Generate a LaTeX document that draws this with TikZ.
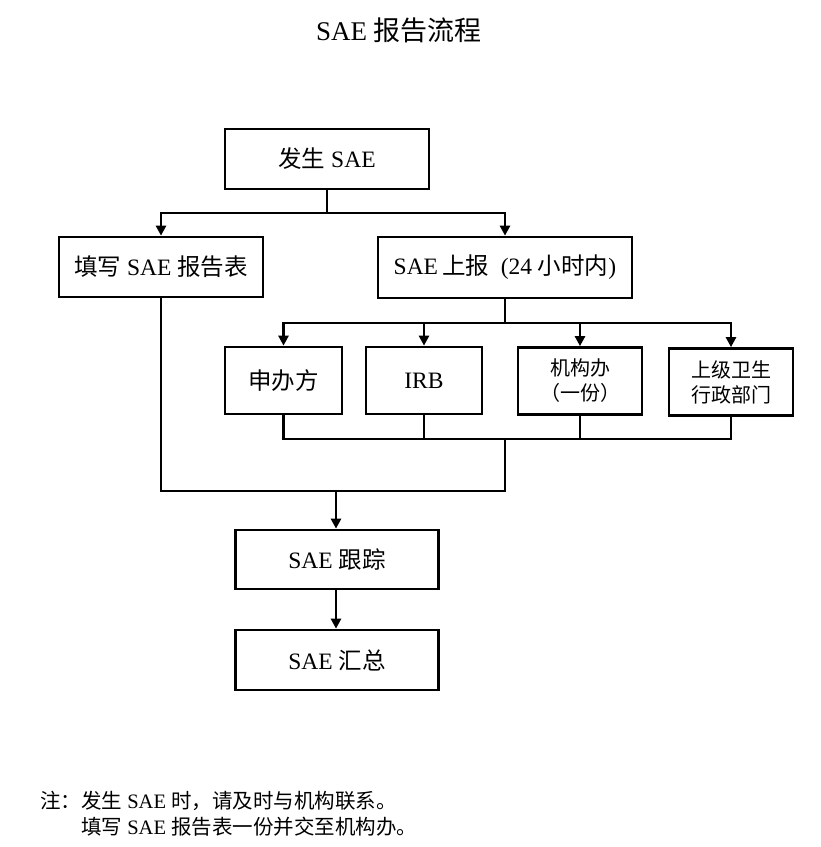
\documentclass[tikz,border=0pt]{standalone}
\usepackage{fontspec}
\setmainfont{Liberation Serif}
\newfontfamily\cjk{Noto Sans CJK SC}
\usetikzlibrary{arrows.meta}
\tikzset{
  box/.style={draw, line width=2.7pt, minimum width=#1, inner sep=0pt, align=center,
              font=\fontsize{23.5}{27}\selectfont},
  box/.default=204pt,
  smallbox/.style={box=#1, font=\fontsize{20}{25}\selectfont},
  conn/.style={line width=2.7pt, line join=miter},
  arr/.style={conn, -{Triangle[length=10pt,width=10pt]}},
}
\begin{document}
\begin{tikzpicture}[x=1pt,y=-1pt]
\useasboundingbox (0,0) rectangle (821,847);
\node[font=\fontsize{27}{30}\selectfont] (title) at (399,30) {SAE {\cjk 报告流程}};

\node[box=204pt, minimum height=60pt] (top) at (327,159) {{\cjk 发生} SAE};
\node[box=204pt, minimum height=60pt] (fill) at (161,267) {{\cjk 填写} SAE {\cjk 报告表}};
\node[box=254pt, minimum height=61pt] (report) at (505,267.5) {SAE\,{\cjk 上报}\ \ (24 {\cjk 小时内})};

\node[box=117pt, minimum height=67pt] (sp) at (283.5,380.5) {{\cjk 申办方}};
\node[box=116pt, minimum height=67pt] (irb) at (424,380.5) {IRB};
\node[smallbox=124pt, minimum height=67pt] (inst) at (580,381) {{\cjk 机构办}\\{\cjk （一份）}};
\node[smallbox=124pt, minimum height=67pt] (gov) at (731,382) {{\cjk 上级卫生}\\{\cjk 行政部门}};

\node[box=203pt, minimum height=59pt] (track) at (337,559.5) {SAE {\cjk 跟踪}};
\node[box=203pt, minimum height=60pt] (sum) at (337,660) {SAE {\cjk 汇总}};

\coordinate (j1) at (327,213);
\coordinate (j2) at (505,323);
\coordinate (j3) at (505,439);
\coordinate (j4) at (505,491);
\coordinate (j5) at (336,491);

\draw[arr] (top.south) -- (j1) -| (fill.north);
\draw[arr] (j1) -| (report.north);

\draw[arr] (report.south) -- (j2) -| (sp.north);
\draw[arr] (j2) -| (irb.north);
\draw[arr] (j2) -| (inst.north);
\draw[arr] (j2) -| (gov.north);

\draw[conn] (sp.south) |- (gov.south |- j3) -- (gov.south);
\draw[conn] (irb.south) -- (irb.south |- j3);
\draw[conn] (inst.south) -- (inst.south |- j3);
\draw[conn] (fill.south) |- (j4) -- (j3);
\draw[arr] (j5) -- (track.north -| j5);
\draw[arr] (track.south -| j5) -- (sum.north -| j5);

\node[anchor=west, align=left, inner sep=0pt, font=\fontsize{20.5}{26}\selectfont] (note) at (40,813.5)
  {{\cjk 注：发生} SAE {\cjk 时，请及时与机构联系。}\\
   \hphantom{\cjk 注：}{\cjk 填写} SAE {\cjk 报告表一份并交至机构办。}};
\end{tikzpicture}
\end{document}
